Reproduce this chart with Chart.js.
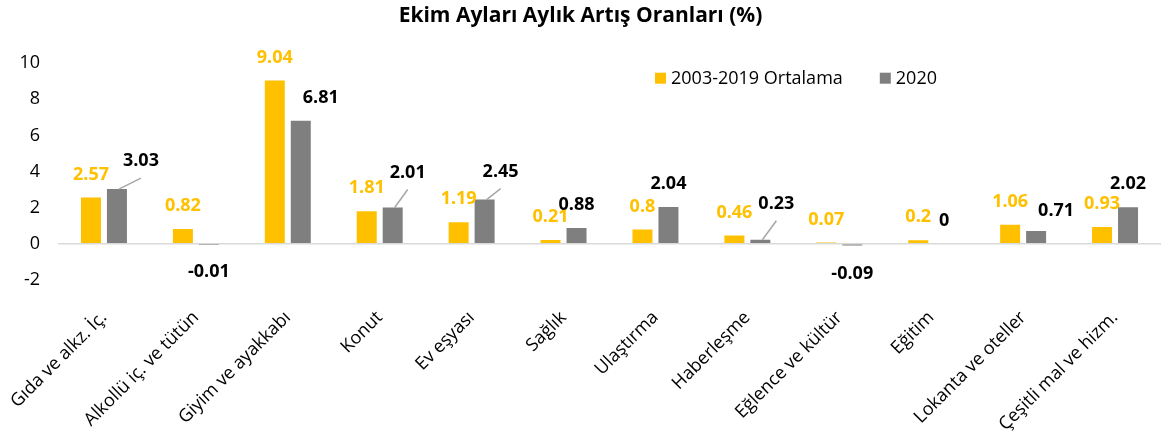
<!DOCTYPE html>
<html>
<head>
<meta charset="utf-8">
<script src="https://cdn.jsdelivr.net/npm/chart.js@4.4.0/dist/chart.umd.min.js"></script>
<style>
  html,body{margin:0;padding:0;background:#fff;}
  #wrap{width:1161px;height:435px;position:relative;}
</style>
</head>
<body>
<div id="wrap"><canvas id="chart"></canvas></div>
<script>
const categories = ["Gıda ve alkz. İç.", "Alkollü iç. ve tütün", "Giyim ve ayakkabı", "Konut", "Ev eşyası", "Sağlık",
  "Ulaştırma", "Haberleşme", "Eğlence ve kültür", "Eğitim", "Lokanta ve oteller", "Çeşitli mal ve hizm."];
const avg0319 = [2.57, 0.82, 9.04, 1.81, 1.19, 0.21, 0.8, 0.46, 0.07, 0.2, 1.06, 0.93];
const y2020 = [3.03, -0.01, 6.81, 2.01, 2.45, 0.88, 2.04, 0.23, -0.09, 0, 0.71, 2.02];
const seriesNames = ["2003-2019 Ortalama", "2020"];
const yMin = -2, yMax = 10, yStep = 2;

const YELLOW = "#FFC000";
const GRAY = "#7F7F7F";
const FONT = "'Open Sans', sans-serif";

// 2020 labels were dragged around by hand in the original, nudge them (px)
const grayShift = [[24,-5],[0,0],[20,0],[15,-12],[16,-5],[0,0],[0,0],[16,-13],[0,0],[0,0],[20,3],[0,0]];
const leaderIdx = [0, 3, 4, 7];

const valueLabels = {
  id: "valueLabels",
  afterDatasetsDraw(chart){
    const ctx = chart.ctx;
    ctx.save();
    ctx.font = "bold 18px " + FONT;
    ctx.textAlign = "center";
    ctx.textBaseline = "middle";
    chart.data.datasets.forEach((ds, di)=>{
      const meta = chart.getDatasetMeta(di);
      meta.data.forEach((bar, i)=>{
        const v = ds.data[i];
        let x = bar.x;
        let y = v < 0 ? bar.y + 28 : bar.y - 23;
        if(di === 1){ x += grayShift[i][0]; y += grayShift[i][1]; }
        if(di === 1 && leaderIdx.includes(i)){
          ctx.strokeStyle = "#A6A6A6";
          ctx.lineWidth = 1.5;
          ctx.beginPath();
          ctx.moveTo(bar.x + 2, bar.y);
          ctx.lineTo(x, y + 17);
          ctx.stroke();
        }
        ctx.fillStyle = di === 0 ? YELLOW : "#000";
        ctx.fillText(String(v), x, y);
      });
    });
    ctx.restore();
  }
};

const topLegend = {
  id: "topLegend",
  afterDraw(chart){
    const ctx = chart.ctx;
    const a = chart.chartArea;
    const cy = a.top + 15;
    let x = a.left + 597;
    ctx.save();
    ctx.font = "18px " + FONT;
    ctx.textBaseline = "middle";
    ctx.textAlign = "left";
    chart.data.datasets.forEach((ds, di)=>{
      ctx.fillStyle = ds.backgroundColor;
      ctx.fillRect(x, cy - 5.5, 11, 11);
      ctx.fillStyle = "#000";
      ctx.fillText(ds.label, x + 16, cy + 1);
      x += 16 + ctx.measureText(ds.label).width + 37;
    });
    ctx.restore();
  }
};

new Chart(document.getElementById("chart"), {
  type: "bar",
  data: {
    labels: categories,
    datasets: [
      { label: seriesNames[0], data: avg0319, backgroundColor: YELLOW },
      { label: seriesNames[1], data: y2020, backgroundColor: GRAY }
    ]
  },
  options: {
    responsive: true,
    maintainAspectRatio: false,
    animation: false,
    devicePixelRatio: 1,
    layout: { padding: 0 },
    datasets: { bar: { categoryPercentage: 0.565, barPercentage: 0.77, inflateAmount: 0 } },
    plugins: {
      legend: { display: false },
      tooltip: { enabled: false },
      title: {
        display: true,
        text: "Ekim Ayları Aylık Artış Oranları (%)",
        color: "#000",
        font: { family: FONT, size: 21, weight: "bold" },
        padding: { top: 3, bottom: 35 }
      }
    },
    scales: {
      x: {
        grid: { display: false, drawTicks: false },
        border: { display: false },
        ticks: {
          autoSkip: false, maxRotation: 45, minRotation: 45,
          color: "#000", font: { family: FONT, size: 18 }, padding: 27
        },
        afterFit(s){ s.height = 155; s.paddingLeft = 0; s.paddingRight = 0; }
      },
      y: {
        min: yMin, max: yMax,
        grid: {
          drawTicks: false,
          color: c => c.tick && c.tick.value === 0 ? "#D9D9D9" : "rgba(0,0,0,0)",
          lineWidth: 1.5
        },
        border: { display: false },
        ticks: { stepSize: yStep, color: "#000", font: { family: FONT, size: 18 }, padding: 18 },
        afterFit(s){ s.width = 58; }
      }
    }
  },
  plugins: [valueLabels, topLegend]
});
</script>
</body>
</html>
